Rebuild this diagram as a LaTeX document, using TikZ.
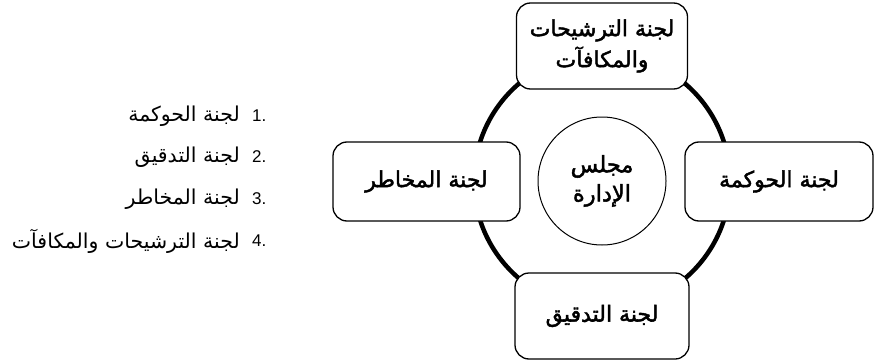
\documentclass[tikz,border=0pt]{standalone}
\usepackage{fontspec}
\TeXXeTstate=1
\newfontfamily\arabicfont[Script=Arabic]{DejaVu Sans}
\newfontfamily\arabicbold[Script=Arabic,FakeBold=2]{DejaVu Sans}
\newfontfamily\numfont{Liberation Sans}
\begin{document}
\begin{tikzpicture}[x=1pt,y=-1pt,
  cbox/.style={draw, line width=1.3pt, rounded corners=14pt, fill=white,
    font=\arabicbold\fontsize{22}{31}\selectfont, align=center, inner sep=0pt},
  hub/.style={draw, circle, line width=1pt, fill=white, minimum size=128pt,
    inner sep=0pt, font=\arabicbold\fontsize{22.5}{29}\selectfont, align=center},
  ring/.style={line width=4.5pt},
  litem/.style={anchor=east, inner sep=0pt, font=\arabicfont\fontsize{20.5}{24}\selectfont},
  lnum/.style={anchor=west, inner sep=0pt, font=\numfont\fontsize{17}{20}\selectfont}]
\useasboundingbox (0,0) rectangle (878,361);
\coordinate (ctr) at (602,181);
\draw[ring] (ctr) circle[radius=128pt];
\node[cbox, minimum width=171pt, minimum height=86pt] (top) at (602,46)
  {\beginR لجنة الترشيحات\endR\\\beginR والمكافآت\endR};
\node[cbox, minimum width=174pt, minimum height=86pt] (bot) at (602,316)
  {\beginR لجنة التدقيق\endR};
\node[cbox, minimum width=187pt, minimum height=79pt] (left) at (426.5,181.5)
  {\beginR لجنة المخاطر\endR};
\node[cbox, minimum width=188pt, minimum height=79pt] (right) at (779,181.5)
  {\beginR لجنة الحوكمة\endR};
\node[hub] (board) at (ctr) {\beginR مجلس\endR\\\beginR الإدارة\endR};
% list
\node[lnum] (n1) at (252,116) {1.};
\node[litem] (t1) at (240,116) {\beginR لجنة الحوكمة\endR};
\node[lnum] (n2) at (252,157) {2.};
\node[litem] (t2) at (240,157) {\beginR لجنة التدقيق\endR};
\node[lnum] (n3) at (252,199) {3.};
\node[litem] (t3) at (240,199) {\beginR لجنة المخاطر\endR};
\node[lnum] (n4) at (252,241) {4.};
\node[litem] (t4) at (240,241) {\beginR لجنة الترشيحات والمكافآت\endR};
\end{tikzpicture}
\end{document}
